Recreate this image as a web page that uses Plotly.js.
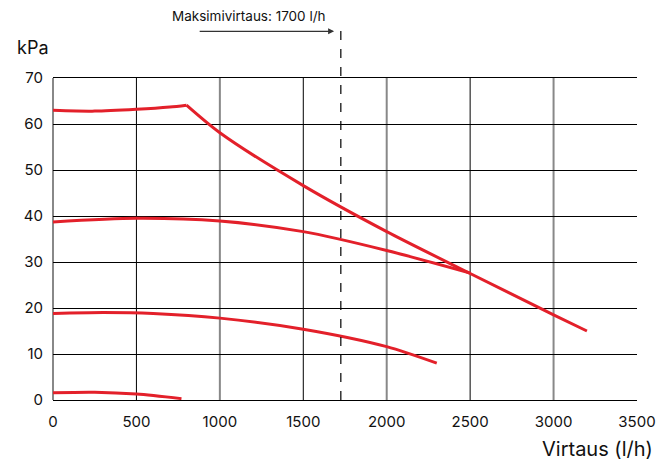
<!DOCTYPE html>
<html><head><meta charset="utf-8">
<script src="https://cdn.plot.ly/plotly-3.0.1.min.js"></script>
<style>html,body{margin:0;padding:0;background:#fff}#c{width:667px;height:462px}</style>
</head><body><div id="c"></div>
<script>
const c1aX=[0,250,500,700,800];
const c1aY=[63,62.8,63.2,63.7,64.1];
const c1bX=[800,1000,1500,2000,2500,3000,3200];
const c1bY=[64.1,58.1,46.6,36.6,27.5,18.5,15];
const c2X=[0,500,1000,1500,2000,2500];
const c2Y=[38.7,39.5,38.9,36.6,32.5,27.6];
const c3X=[0,300,600,1000,1500,2000,2300];
const c3Y=[18.8,19,18.8,17.8,15.4,11.6,8];
const c4X=[0,250,500,770];
const c4Y=[1.6,1.7,1.3,0.3];
const maxFlow=1725;
const xTicks=[0,500,1000,1500,2000,2500,3000,3500];
const yTicks=[0,10,20,30,40,50,60,70];
const blackGrid=[500,1500,2500];
const grayGrid=[1000,2000,3000];
const red='#e3202a';
function tr(x,y){return {x:x,y:y,mode:'lines',line:{color:red,width:3,shape:'spline',smoothing:0.8},hoverinfo:'skip',showlegend:false,cliponaxis:false};}
const data=[tr(c1aX,c1aY),tr(c1bX,c1bY),tr(c2X,c2Y),tr(c3X,c3Y),tr(c4X,c4Y)];
const font="Inter, 'Open Sans', sans-serif";
const shapes=[
  {type:'line',xref:'x',yref:'paper',x0:maxFlow,x1:maxFlow,y0:0,y1:1.155,line:{color:'#000',width:1.2,dash:'dash'}},
  {type:'line',xref:'paper',yref:'paper',x0:0,x1:0,y0:0,y1:1,line:{color:'#888',width:2},layer:'below'}
];
blackGrid.forEach(v=>shapes.push({type:'line',xref:'x',yref:'paper',x0:v,x1:v,y0:0,y1:1,line:{color:'#000',width:1},layer:'below'}));
grayGrid.forEach(v=>shapes.push({type:'line',xref:'x',yref:'paper',x0:v,x1:v,y0:0,y1:1,line:{color:'#888',width:2},layer:'below'}));
const layout={
 width:667,height:462,margin:{l:53,r:30,t:78,b:62},
 paper_bgcolor:'#fff',plot_bgcolor:'#fff',
 font:{family:font,color:'#111',size:15},
 xaxis:{range:[0,3500],tickvals:xTicks,showgrid:false,zeroline:false,showline:true,linecolor:'#000',mirror:true,ticks:'',tickfont:{size:15},ticklabelstandoff:8,fixedrange:true},
 yaxis:{range:[0,70],tickvals:yTicks,showgrid:true,gridcolor:'#000',gridwidth:1,zeroline:false,showline:false,ticks:'',tickfont:{size:15},ticklabelstandoff:9,fixedrange:true},
 shapes:shapes,
 annotations:[
  {xref:'paper',yref:'paper',x:-0.005,y:1.055,text:'kPa',showarrow:false,xanchor:'right',yanchor:'bottom',font:{size:18,color:'#111'}},
  {xref:'paper',yref:'paper',x:1.03,y:-0.153,text:'Virtaus (l/h)',showarrow:false,xanchor:'right',yanchor:'middle',font:{size:20,color:'#111'}},
  {xref:'x',yref:'paper',x:1650,y:1.193,text:'Maksimivirtaus: 1700 l/h',showarrow:false,xanchor:'right',yanchor:'middle',font:{size:13.5,color:'#111'}},
  {xref:'x',yref:'paper',x:maxFlow-40,y:1.145,ax:870,ay:1.145,axref:'x',ayref:'paper',text:'',showarrow:true,arrowhead:2,arrowsize:1,arrowwidth:1.2,arrowcolor:'#333'}
 ]
};
Plotly.newPlot('c',data,layout,{displayModeBar:false,staticPlot:true});
</script></body></html>
